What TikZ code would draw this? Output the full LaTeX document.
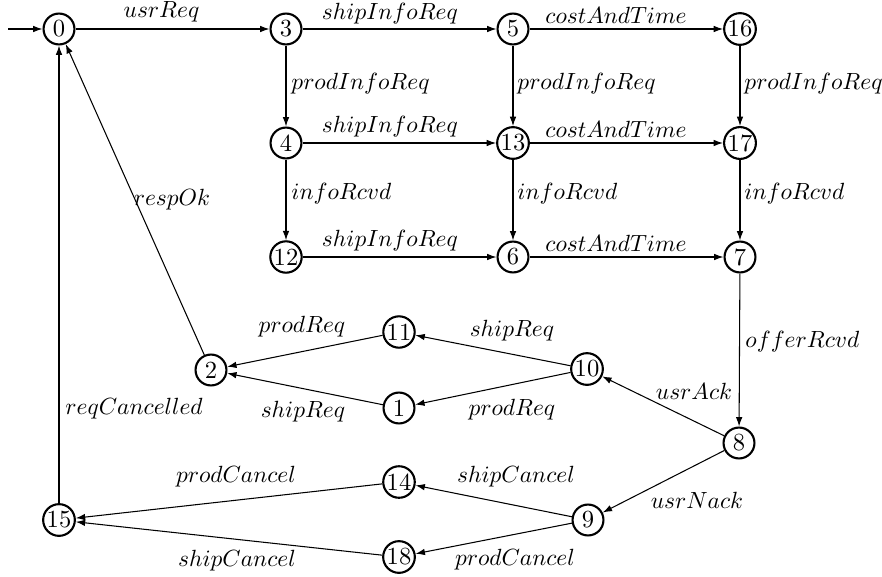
\documentclass[tikz,border=0pt]{standalone}
\usetikzlibrary{arrows.meta}
\begin{document}
\begin{tikzpicture}[x=0.427pt,y=-0.427pt,
  st/.style={circle,draw,line width=0.9pt,minimum size=13.2pt,inner sep=0.3pt,font=\fontsize{10.5}{12}\selectfont},
  tr/.style={-{Latex[length=4pt,width=2.8pt]},line width=0.45pt},
  lab/.style={inner sep=0pt}]
\useasboundingbox (0,0) rectangle (882,577);
% states
\node[st] (s0) at (59,29) {0};
\node[st] (s3) at (286,29) {3};
\node[st] (s5) at (513,29) {5};
\node[st] (s16) at (740,29) {16};
\node[st] (s4) at (286,143) {4};
\node[st] (s13) at (513,143) {13};
\node[st] (s17) at (740,143) {17};
\node[st] (s12) at (286,257) {12};
\node[st] (s6) at (513,257) {6};
\node[st] (s7) at (740,257) {7};
\node[st] (s11) at (399,332) {11};
\node[st] (s2) at (211,370) {2};
\node[st] (s10) at (587,369) {10};
\node[st] (s1) at (399,408) {1};
\node[st] (s8) at (739,443) {8};
\node[st] (s14) at (399,482) {14};
\node[st] (s9) at (588,520) {9};
\node[st] (s15) at (59,520) {15};
\node[st] (s18) at (399,557) {18};
\coordinate (start) at (8,29);
% transitions
\draw[tr] (start) -- (s0);
\draw[tr] (s0) -- (s3);
\draw[tr] (s3) -- (s5);
\draw[tr] (s5) -- (s16);
\draw[tr] (s3) -- (s4);
\draw[tr] (s5) -- (s13);
\draw[tr] (s16) -- (s17);
\draw[tr] (s4) -- (s13);
\draw[tr] (s13) -- (s17);
\draw[tr] (s4) -- (s12);
\draw[tr] (s13) -- (s6);
\draw[tr] (s17) -- (s7);
\draw[tr] (s12) -- (s6);
\draw[tr] (s6) -- (s7);
\draw[tr] (s7) -- (s8);
\draw[tr] (s8) -- (s10);
\draw[tr] (s8) -- (s9);
\draw[tr] (s10) -- (s11);
\draw[tr] (s10) -- (s1);
\draw[tr] (s11) -- (s2);
\draw[tr] (s1) -- (s2);
\draw[tr] (s2) -- (s0);
\draw[tr] (s15) -- (s0);
\draw[tr] (s9) -- (s14);
\draw[tr] (s9) -- (s18);
\draw[tr] (s14) -- (s15);
\draw[tr] (s18) -- (s15);
% labels
\node[lab] (l1) at (161.5,12) {$usrReq$};
\node[lab] (l2) at (390,14) {$shipInfoReq$};
\node[lab] (l3) at (616,15) {$costAndTime$};
\node[lab,anchor=west] (l4) at (291,84) {$prodInfoReq$};
\node[lab,anchor=west] (l5) at (517,84) {$prodInfoReq$};
\node[lab,anchor=west] (l6) at (744,84) {$prodInfoReq$};
\node[lab] (l7) at (390,127) {$shipInfoReq$};
\node[lab] (l8) at (616,129) {$costAndTime$};
\node[lab,anchor=west] (l9) at (291,194) {$infoRcvd$};
\node[lab,anchor=west] (l10) at (517,194) {$infoRcvd$};
\node[lab,anchor=west] (l11) at (744,194) {$infoRcvd$};
\node[lab] (l12) at (390,241) {$shipInfoReq$};
\node[lab] (l13) at (616,243) {$costAndTime$};
\node[lab,anchor=west] (l14) at (745,342) {$offerRcvd$};
\node[lab] (l15) at (694,391) {$usrAck$};
\node[lab] (l16) at (697,500) {$usrNack$};
\node[lab] (l17) at (512,331) {$shipReq$};
\node[lab] (l18) at (302,327) {$prodReq$};
\node[lab] (l19) at (303,412) {$shipReq$};
\node[lab] (l20) at (512,410) {$prodReq$};
\node[lab] (l21) at (172,200) {$respOk$};
\node[lab,anchor=west] (l22) at (65,409) {$reqCancelled$};
\node[lab] (l23) at (236,477) {$prodCancel$};
\node[lab] (l24) at (237,561) {$shipCancel$};
\node[lab] (l25) at (516,477) {$shipCancel$};
\node[lab] (l26) at (515,560) {$prodCancel$};
\end{tikzpicture}
\end{document}
